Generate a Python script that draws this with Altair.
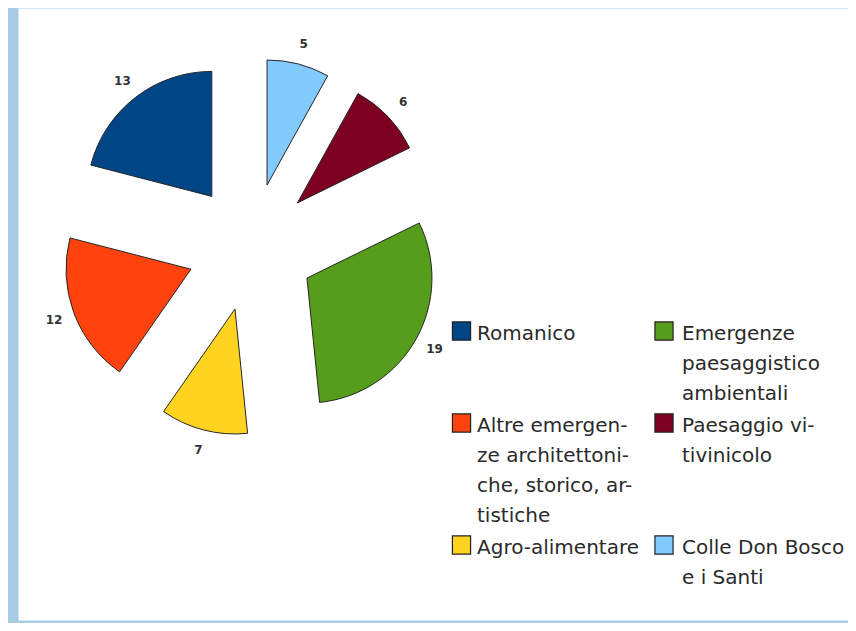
import altair as alt
import pandas as pd

# ---- data ----
pie_categories = [
    "Colle Don Bosco e i Santi",
    "Paesaggio vitivinicolo",
    "Emergenze paesaggistico ambientali",
    "Agro-alimentare",
    "Altre emergenze architettoniche, storico, artistiche",
    "Romanico",
]
pie_values = [5, 6, 19, 7, 12, 13]

legend_order = [
    "Romanico",
    "Emergenze paesaggistico ambientali",
    "Altre emergenze architettoniche, storico, artistiche",
    "Paesaggio vitivinicolo",
    "Agro-alimentare",
    "Colle Don Bosco e i Santi",
]
legend_colors = ["#004586", "#579d1c", "#ff420e", "#7e0021", "#ffd320", "#83caff"]
legend_labels = [
    "Romanico",
    "Emergenze\npaesaggistico\nambientali",
    "Altre emergen-\nze architettoni-\nche, storico, ar-\ntistiche",
    "Paesaggio vi-\ntivinicolo",
    "Agro-alimentare",
    "Colle Don Bosco\ne i Santi",
]

# ---- layout ----
W, H = 830, 612
CX, CY = 233, 239
EXPLODE = 64
RADIUS = 125
LABEL_R = 146
LEG_SYM_X = [443.5, 646]
LEG_TXT_X = [459, 664]
LEG_Y0 = 326
LINE_H = 30
ROW_PAD = 2
FONT = "DejaVu Sans"

pie_df = pd.DataFrame({
    "category": pie_categories,
    "value": pie_values,
    "order": list(range(len(pie_values))),
})

# legend tables
sym_rows, txt_rows = [], []
row_y = LEG_Y0
n_rows = (len(legend_order) + 1) // 2
for r in range(n_rows):
    max_lines = 1
    for c in range(2):
        i = r * 2 + c
        if i >= len(legend_order):
            continue
        lines = legend_labels[i].split("\n")
        max_lines = max(max_lines, len(lines))
        sym_rows.append({"category": legend_order[i], "x": LEG_SYM_X[c], "y": row_y - 3})
        for k, ln in enumerate(lines):
            txt_rows.append({"text": ln, "x": LEG_TXT_X[c], "y": row_y + k * LINE_H})
    row_y += max_lines * LINE_H + ROW_PAD
sym_df = pd.DataFrame(sym_rows)
txt_df = pd.DataFrame(txt_rows)

xs = alt.Scale(domain=[0, W], range=[0, W], nice=False, zero=False)
ys = alt.Scale(domain=[0, H], range=[0, H], nice=False, zero=False)
color_scale = alt.Scale(domain=legend_order, range=legend_colors)
total = sum(pie_values)

base = alt.Chart(pie_df).transform_window(
    cum="sum(value)", sort=[alt.SortField("order")], frame=[None, 0]
).transform_joinaggregate(
    total="sum(value)"
).transform_calculate(
    start="datum.cum - datum.value",
    mid="(datum.cum - datum.value / 2) / datum.total * 2 * PI",
    px=f"{CX} + {EXPLODE} * sin(datum.mid)",
    py=f"{CY} - {EXPLODE} * cos(datum.mid)",
    lx=f"datum.px + {LABEL_R} * sin(datum.mid)",
    ly=f"datum.py - {LABEL_R} * cos(datum.mid)",
)

arcs = base.mark_arc(radius=RADIUS, stroke="#262626", strokeWidth=1).encode(
    theta=alt.Theta("start:Q", stack=False,
                    scale=alt.Scale(domain=[0, total], nice=False, zero=True)),
    theta2="cum:Q",
    x=alt.X("px:Q", scale=xs, axis=None, stack=False),
    y=alt.Y("py:Q", scale=ys, axis=None, stack=False),
    color=alt.Color("category:N", scale=color_scale, legend=None),
)

labels = base.mark_text(font=FONT, fontSize=12, fontWeight="bold", color="#333",
                        align="center", baseline="middle").encode(
    x=alt.X("lx:Q", scale=xs, axis=None, stack=False),
    y=alt.Y("ly:Q", scale=ys, axis=None, stack=False),
    text=alt.Text("value:Q"),
)

symbols = alt.Chart(sym_df).mark_square(size=330, opacity=1, stroke="#222",
                                        strokeWidth=1.2).encode(
    x=alt.X("x:Q", scale=xs, axis=None, stack=False),
    y=alt.Y("y:Q", scale=ys, axis=None, stack=False),
    color=alt.Color("category:N", scale=color_scale, legend=None),
)

texts = alt.Chart(txt_df).mark_text(font=FONT, fontSize=20, color="#2a2a2a",
                                    align="left", baseline="middle").encode(
    x=alt.X("x:Q", scale=xs, axis=None, stack=False),
    y=alt.Y("y:Q", scale=ys, axis=None, stack=False),
    text="text:N",
)

chart = alt.layer(arcs, labels, symbols, texts).properties(
    width=W,
    height=H,
    padding={"left": 10, "top": 0, "right": 0, "bottom": 3},
    autosize=alt.AutoSizeParams(type="none"),
    background="#a9cce6",
).configure_view(fill="white", stroke="transparent")

chart.save("out.html", embed_options={"renderer": "svg", "actions": False})
